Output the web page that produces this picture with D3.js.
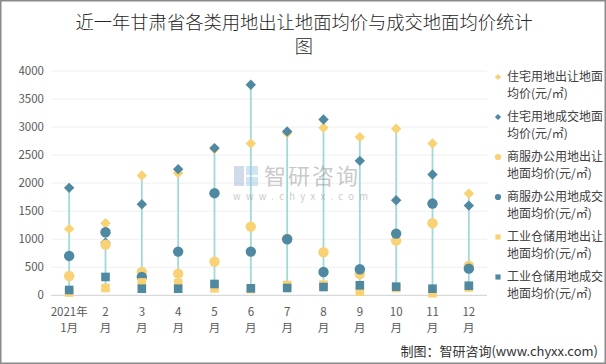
<!DOCTYPE html>
<html><head><meta charset="utf-8">
<script src="https://cdn.jsdelivr.net/npm/d3@7"></script>
<style>body{margin:0;background:#fff}svg{display:block}</style>
</head><body>
<script>
const months = ["2021年\n1月","2\n月","3\n月","4\n月","5\n月","6\n月","7\n月","8\n月","9\n月","10\n月","11\n月","12\n月"];
const resSell  = [1184,1285,2136,2178,2610,2707,2893,2988,2821,2970,2707,1814];
const resDeal  = [1916,940,1625,2250,2625,3755,2921,3136,2398,1696,2154,1600];
const comSell  = [345,904,416,386,600,1225,1010,768,380,975,1286,529];
const comDeal  = [702,1125,327,779,1821,779,1000,416,464,1100,1636,475];
const indSell  = [50,130,230,214,125,110,184,190,64,130,36,140];
const indDeal  = [95,327,118,118,202,125,130,148,178,154,118,171];
const yTicks = [0,500,1000,1500,2000,2500,3000,3500,4000];
const seriesNames = ["住宅用地出让地面\n均价(元/㎡)","住宅用地成交地面\n均价(元/㎡)","商服办公用地出让\n地面均价(元/㎡)","商服办公用地成交\n地面均价(元/㎡)","工业仓储用地出让\n地面均价(元/㎡)","工业仓储用地成交\n地面均价(元/㎡)"];

const YEL = "#F8D274", DARK = "#4E88A1", LINE = "#9FDAD7";
const series = [
  {vals: resSell, color: YEL, shape: "diamond"},
  {vals: resDeal, color: DARK, shape: "diamond"},
  {vals: comSell, color: YEL, shape: "circle"},
  {vals: comDeal, color: DARK, shape: "circle"},
  {vals: indSell, color: YEL, shape: "square"},
  {vals: indDeal, color: DARK, shape: "square"}
];

const W = 606, H = 364;
const svg = d3.select("body").append("svg").attr("width", W).attr("height", H);
svg.append("rect").attr("x",0.75).attr("y",0.75).attr("width",W-1.5).attr("height",H-1.5)
  .attr("fill","#fff").attr("stroke","#8a8a8a").attr("stroke-width",1.5);

const font = "'Noto Sans CJK SC','Microsoft YaHei',sans-serif";
// title
const title = svg.append("text").attr("x",304).attr("y",28.5).attr("text-anchor","middle")
  .attr("font-family",font).attr("font-size",18.3).attr("font-weight",300).attr("fill","#262626");
title.append("tspan").attr("x",304).attr("dy",0).text("近一年甘肃省各类用地出让地面均价与成交地面均价统计");
title.append("tspan").attr("x",304).attr("dy",24).text("图");

const x = d3.scaleBand().domain(months).range([51,487]);
const y = d3.scaleLinear().domain([0,4000]).range([295.3,71]);

// gridlines
svg.append("g").selectAll("line").data(yTicks.slice(1)).join("line")
  .attr("x1",51).attr("x2",487).attr("y1",d=>y(d)).attr("y2",d=>y(d))
  .attr("stroke","#efefef").attr("stroke-width",1);

// y axis
const yAxis = svg.append("g").attr("transform","translate(44,0)")
  .call(d3.axisLeft(y).tickValues(yTicks).tickFormat(d3.format("d")).tickSize(0).tickPadding(0));
yAxis.select(".domain").remove();
yAxis.selectAll("text").attr("font-family",font).attr("font-size",11.5).attr("fill","#595959");

// x axis
svg.append("line").attr("x1",51).attr("x2",487).attr("y1",y(0)).attr("y2",y(0))
  .attr("stroke","#d0d0d0").attr("stroke-width",1);
const xAxis = svg.append("g").attr("transform",`translate(0,${y(0)})`)
  .call(d3.axisBottom(x).tickSize(0).tickPadding(0));
xAxis.select(".domain").remove();
xAxis.selectAll("text").each(function(d){
  const t = d3.select(this); t.text(null).attr("y",0).attr("dy",null);
  const parts = d.split("\n");
  t.append("tspan").attr("x",0).attr("y",21).text(parts[0]);
  t.append("tspan").attr("x",0).attr("y",37).text(parts[1]);
}).attr("font-family",font).attr("font-size",11.5).attr("fill","#595959");

// high-low lines
const cx = m => x(m) + x.bandwidth()/2;
svg.append("g").selectAll("line").data(months).join("line")
  .attr("x1",cx).attr("x2",cx)
  .attr("y1",(m,i)=>y(d3.max(series,s=>s.vals[i])))
  .attr("y2",(m,i)=>y(d3.min(series,s=>s.vals[i])))
  .attr("stroke",LINE).attr("stroke-width",1.8);

function marker(g, shape, color, px, py, k){
  k = k || 1;
  if(shape==="diamond"){
    const r = 5.2*k;
    g.append("path").attr("d",`M${px},${py-r}L${px+r},${py}L${px},${py+r}L${px-r},${py}Z`).attr("fill",color);
  } else if(shape==="circle"){
    g.append("circle").attr("cx",px).attr("cy",py).attr("r",5.2*k).attr("fill",color);
  } else {
    const s = 8.6*k;
    g.append("rect").attr("x",px-s/2).attr("y",py-s/2).attr("width",s).attr("height",s).attr("fill",color);
  }
}
const mg = svg.append("g");
series.forEach(s=>{
  months.forEach((m,i)=>{ marker(mg, s.shape, s.color, cx(m), y(s.vals[i])); });
});

// watermark
const wm = svg.append("g").attr("opacity",0.45);
wm.append("rect").attr("x",234).attr("y",166).attr("width",10).attr("height",20).attr("fill","#9aaed0");
wm.append("rect").attr("x",246).attr("y",166).attr("width",12).attr("height",9).attr("fill","#9ac4e6");
wm.append("rect").attr("x",246).attr("y",177).attr("width",12).attr("height",9).attr("fill","#9ac4e6");
wm.append("text").attr("x",264).attr("y",184).attr("font-family",font).attr("font-size",22)
  .attr("fill","#8a8a8a").attr("letter-spacing",2).text("智研咨询");
wm.append("text").attr("x",233).attr("y",200).attr("font-family",font).attr("font-size",9.5)
  .attr("fill","#8a8a8a").attr("letter-spacing",5.3).text("www.chyxx.com");

// legend
const lg = svg.append("g");
seriesNames.forEach((n,i)=>{
  const ly = 81 + i*40;
  const s = series[i];
  marker(lg, s.shape, s.color, 498, ly-4, 0.6);
  const parts = n.split("\n");
  const t = lg.append("text").attr("font-family",font).attr("font-size",12).attr("fill","#404040");
  t.append("tspan").attr("x",507).attr("y",ly).text(parts[0]);
  t.append("tspan").attr("x",507).attr("y",ly+17).text(parts[1]);
});

// footer
svg.append("text").attr("x",598).attr("y",356).attr("text-anchor","end")
  .attr("font-family",font).attr("font-size",13).attr("fill","#333").text("制图：智研咨询(www.chyxx.com)");
</script>
</body></html>
